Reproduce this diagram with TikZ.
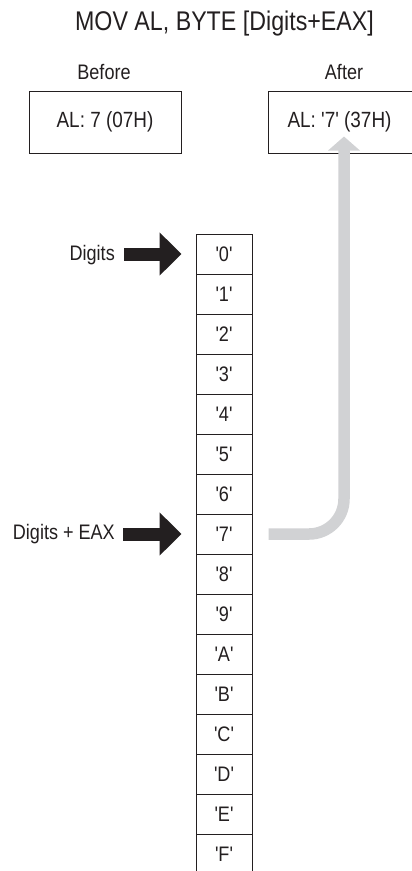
\documentclass[tikz,border=0pt]{standalone}
\usepackage{fontspec}
\setmainfont{Liberation Sans}[FakeStretch=0.86, Ligatures=TeXOff]
\usetikzlibrary{arrows.meta}
\definecolor{inkdark}{HTML}{231F20}
\definecolor{lightgray}{HTML}{D1D2D4}
\newcommand{\sqt}{\char"0027\relax}
\tikzset{
  cell/.style={draw=inkdark, line width=1pt, minimum width=56pt, minimum height=40pt, inner sep=0pt, font=\fontsize{21}{24}\selectfont, text=inkdark},
  regbox/.style={draw=inkdark, line width=1pt, minimum width=152pt, minimum height=62pt, inner sep=0pt, font=\fontsize{22}{25}\selectfont, text=inkdark},
  lbl/.style={inner sep=0pt, font=\fontsize{21}{24}\selectfont, text=inkdark},
  bigarrow/.style={draw=inkdark, line width=13pt, -{Triangle[length=22pt,width=42pt]}},
  grayarrow/.style={draw=lightgray, line width=11.5pt, rounded corners=35pt, -{Triangle[length=14pt,width=31pt]}}
}
\begin{document}
\begin{tikzpicture}[x=1pt,y=-1pt]
\clip (0,0) rectangle (412,871);
\fill[white] (0,0) rectangle (412,871);
\node[inner sep=0pt, anchor=base, font=\fontsize{27}{30}\selectfont, text=inkdark] (title) at (224.5,30) {MOV AL, BYTE [Digits+EAX]};
\node[lbl, anchor=base] (before) at (104,79) {Before};
\node[lbl, anchor=base] (after) at (344,79) {After};
\node[regbox] (bbox) at (105,122) {AL: 7 (07H)};
\node[regbox] (abox) at (344,122) {\hspace*{-9pt}AL: \sqt7\sqt{} (37H)};
\foreach \t [count=\i from 0] in {0,1,2,3,4,5,6,7,8,9,A,B,C,D,E,F}{
  \node[cell] (c\i) at (224,{254+40*\i}) {\sqt\t\sqt};
}
\node[lbl, anchor=base east] (lab0) at (115,260) {Digits};
\node[lbl, anchor=base east] (lab7) at (115,539) {Digits + EAX};
\draw[bigarrow] ([xshift=9pt]lab0.east |- c0.west) -- ([xshift=-14pt]c0.west);
\draw[bigarrow] ([xshift=8pt]lab7.east |- c7.west) -- ([xshift=-14pt]c7.west);
\draw[grayarrow] ([xshift=16pt]c7.east) -| ([yshift=17pt]abox.south);
\end{tikzpicture}
\end{document}
